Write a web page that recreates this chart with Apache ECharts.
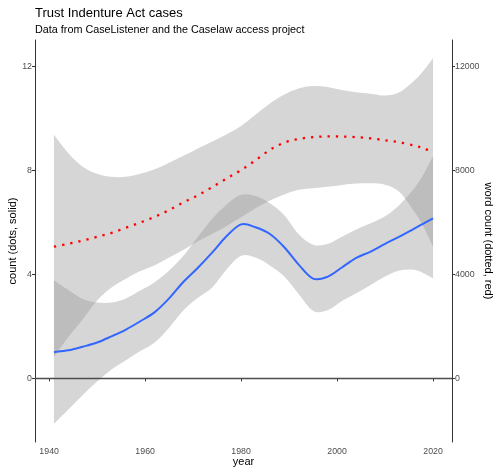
<!DOCTYPE html>
<html><head><meta charset="utf-8">
<script src="https://cdn.jsdelivr.net/npm/echarts@6/dist/echarts.min.js"></script>
<style>html,body{margin:0;padding:0;background:#fff}#c{width:495px;height:467px}</style>
</head><body><div id="c"></div>
<script>
const years      = [1941,1944,1947,1950,1953,1956,1959,1962,1965,1968,1971,1974,1977,1980,1983,1986,1989,1992,1995,1998,2001,2004,2007,2010,2013,2016,2018,2020];
const countFit   = [1.01,1.08,1.22,1.38,1.62,1.88,2.20,2.55,3.08,3.72,4.26,4.85,5.48,5.93,5.82,5.56,5.05,4.38,3.84,3.91,4.27,4.64,4.88,5.18,5.46,5.76,5.96,6.16];
const countHigh  = [3.78,3.40,3.06,2.92,2.92,3.08,3.38,3.70,4.15,4.72,5.45,6.15,6.70,7.07,7.02,6.74,6.28,5.55,5.15,5.17,5.45,5.73,5.97,6.24,6.68,7.30,7.85,8.56];
const countLow   = [-1.75,-1.20,-0.64,-0.12,0.34,0.70,1.05,1.38,1.95,2.62,3.10,3.50,4.20,4.72,4.65,4.35,3.92,3.25,2.60,2.62,2.98,3.28,3.60,3.92,4.15,4.18,4.05,3.85];
const wordFit    = [5070,5180,5310,5450,5600,5800,6000,6220,6480,6780,7050,7370,7700,8020,8400,8800,9080,9220,9290,9320,9310,9290,9240,9170,9090,8970,8860,8710];
const wordHigh   = [9380,8670,8150,7880,7760,7760,7880,8050,8300,8570,8850,9120,9400,9720,10150,10580,10930,11160,11260,11220,11100,11020,10960,10890,11020,11450,11850,12330];
const wordLow    = [820,1590,2280,3000,3500,3840,4130,4360,4650,4950,5280,5570,5870,6200,6550,6850,7080,7260,7320,7380,7450,7500,7510,7460,7180,6450,5850,5070];
const xTicks     = [1940,1960,1980,2000,2020];
const countTicks = [0,4,8,12];
const wordTicks  = [0,4000,8000,12000];

const FONT = 'Liberation Sans';
const BAND = 'rgba(153,153,153,0.4)';
const pairs = (a) => years.map((y, i) => [y, a[i]]);
const bandRows = (lo, hi) => years.map((y, i) => [y, lo[i], hi[i]]);

// Catmull-Rom curve through pixel points, as cubic bezier path commands
function curve(pts, start) {
  let d = (start ? 'M' : 'L') + pts[0][0] + ' ' + pts[0][1];
  for (let i = 0; i < pts.length - 1; i++) {
    const p0 = pts[Math.max(0, i - 1)], p1 = pts[i], p2 = pts[i + 1], p3 = pts[Math.min(pts.length - 1, i + 2)];
    const c1x = p1[0] + (p2[0] - p0[0]) / 6, c1y = p1[1] + (p2[1] - p0[1]) / 6;
    const c2x = p2[0] - (p3[0] - p1[0]) / 6, c2y = p2[1] - (p3[1] - p1[1]) / 6;
    d += ' C' + c1x + ' ' + c1y + ' ' + c2x + ' ' + c2y + ' ' + p2[0] + ' ' + p2[1];
  }
  return d;
}

function bandRender(params, api) {
  if (params.dataIndex !== 0) return null;
  const up = [], lo = [];
  for (let i = 0; i < years.length; i++) {
    const x = api.value(0, i), l = api.value(1, i), h = api.value(2, i);
    up.push(api.coord([x, h]));
    lo.push(api.coord([x, l]));
  }
  const d = curve(up, true) + ' ' + curve(lo.slice().reverse(), false) + ' Z';
  return { type: 'path', shape: { pathData: d }, style: { fill: BAND, stroke: null }, silent: true };
}

function lineRender(color, width, dash) {
  return function (params, api) {
    if (params.dataIndex !== 0) return null;
    const pts = [];
    for (let i = 0; i < years.length; i++) pts.push(api.coord([api.value(0, i), api.value(1, i)]));
    const style = { fill: null, stroke: color, lineWidth: width, lineCap: 'butt', lineJoin: 'round' };
    if (dash) style.lineDash = dash;
    return { type: 'path', shape: { pathData: curve(pts, true) }, style: style, silent: true };
  };
}

function axisCommon(ticks, margin) {
  return {
    axisLine: { show: true, lineStyle: { color: '#333', width: 1 } },
    axisTick: { show: true, customValues: ticks, length: 3, lineStyle: { color: '#333', width: 1 } },
    axisLabel: { customValues: ticks, color: '#4d4d4d', fontSize: 8.8, fontFamily: FONT, margin: margin,
      formatter: (v) => String(v) },
    splitLine: { show: false },
    nameMoveOverlap: false,
    nameTextStyle: { fontSize: 11, color: '#000', fontFamily: FONT }
  };
}

const chart = echarts.init(document.getElementById('c'), null, { renderer: 'canvas' });
chart.setOption({
  animation: false,
  backgroundColor: '#fff',
  title: {
    text: 'Trust Indenture Act cases',
    subtext: 'Data from CaseListener and the Caselaw access project',
    left: 35, top: 7, padding: 0, itemGap: 5,
    textStyle: { fontSize: 13, fontWeight: 'normal', color: '#000', fontFamily: FONT },
    subtextStyle: { fontSize: 10.8, color: '#000', fontFamily: FONT }
  },
  grid: { left: 35, right: 43, top: 40, bottom: 25, containLabel: false, outerBoundsMode: 'none' },
  xAxis: Object.assign(axisCommon(xTicks, 5), {
    type: 'value', min: 1937.05, max: 2023.95,
    name: 'year', nameLocation: 'middle', nameGap: 14
  }),
  yAxis: [
    Object.assign(axisCommon(countTicks, 3), {
      type: 'value', position: 'left', min: -2.45, max: 13.03,
      name: 'count (dots, solid)', nameLocation: 'middle', nameGap: 17
    }),
    Object.assign(axisCommon(wordTicks, 3), {
      type: 'value', position: 'right', min: -2450, max: 13030,
      name: 'word count (dotted, red)', nameLocation: 'middle', nameGap: 31, nameRotate: -90
    })
  ],
  series: [
    { type: 'custom', name: 'countBand', coordinateSystem: 'cartesian2d', xAxisIndex: 0, yAxisIndex: 0,
      data: bandRows(countLow, countHigh), encode: { x: 0, y: [1, 2] }, renderItem: bandRender, silent: true, z: 1 },
    { type: 'custom', name: 'wordBand', coordinateSystem: 'cartesian2d', xAxisIndex: 0, yAxisIndex: 1,
      data: bandRows(wordLow, wordHigh), encode: { x: 0, y: [1, 2] }, renderItem: bandRender, silent: true, z: 1 },
    { type: 'line', name: 'zero', data: [], markLine: { silent: true, symbol: ['none', 'none'], label: { show: false },
        lineStyle: { color: '#4d4d4d', width: 1.3, type: 'solid' }, data: [{ yAxis: 0 }] }, z: 2 },
    { type: 'custom', name: 'count', coordinateSystem: 'cartesian2d', xAxisIndex: 0, yAxisIndex: 0,
      data: pairs(countFit), encode: { x: 0, y: 1 }, renderItem: lineRender('#3366FF', 2), silent: true, z: 3 },
    { type: 'custom', name: 'words', coordinateSystem: 'cartesian2d', xAxisIndex: 0, yAxisIndex: 1,
      data: pairs(wordFit), encode: { x: 0, y: 1 }, renderItem: lineRender('#FF0000', 2.3, [2.3, 6]), silent: true, z: 4 }
  ]
});
</script>
</body></html>
